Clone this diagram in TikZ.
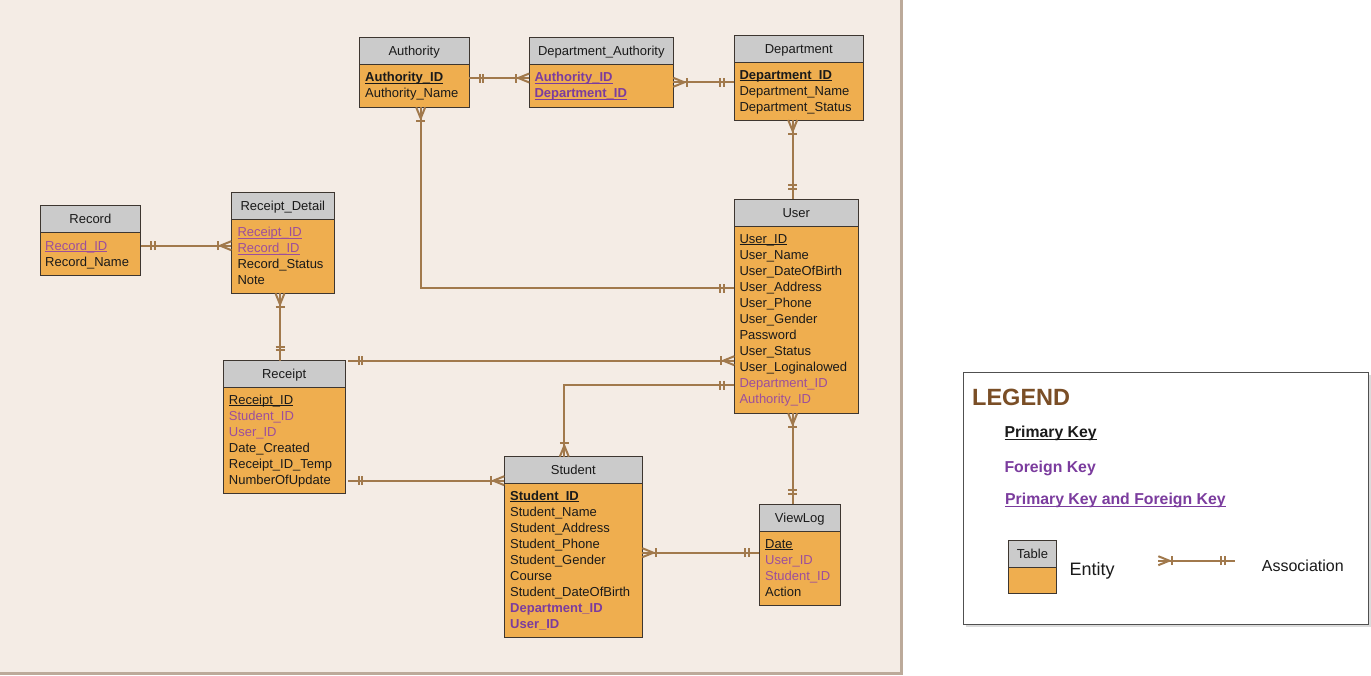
\documentclass[tikz,border=0pt]{standalone}
\usepackage{fontspec}
\setmainfont{Liberation Sans}
\usetikzlibrary{fit,decorations.markings}
\definecolor{panel}{HTML}{F4ECE5}
\definecolor{paneledge}{HTML}{BCAA9A}
\definecolor{hdrgray}{HTML}{CBCBCB}
\definecolor{bodyor}{HTML}{EFAE4F}
\definecolor{tblline}{HTML}{3D3630}
\definecolor{conncol}{RGB}{161,121,76}
\definecolor{fkp}{HTML}{9C4E9C}
\definecolor{fkv}{HTML}{7B3C9E}
\definecolor{legbrown}{HTML}{7A4E26}
\definecolor{txt}{HTML}{1A1A1A}
\definecolor{legline}{HTML}{505050}

\newlength\ulw
\newcommand{\ulx}[1]{\settowidth{\ulw}{#1}\rlap{\rule[-2pt]{\ulw}{1pt}}#1}
\newcommand{\pk}[1]{\ulx{#1}}
\newcommand{\pkb}[1]{\textbf{\ulx{#1}}}
\newcommand{\fk}[1]{\textcolor{fkp}{#1}}
\newcommand{\fkb}[1]{\textcolor{fkv}{\textbf{#1}}}
\newcommand{\pfk}[1]{\textcolor{fkp}{\ulx{#1}}}
\newcommand{\pfkb}[1]{\textcolor{fkv}{\textbf{\ulx{#1}}}}

\tikzset{
  tblbody/.style={inner sep=0pt, outer sep=0pt, fill=bodyor, draw=tblline, line width=1pt},
  tblhdr/.style={inner sep=0pt, outer sep=0pt, fill=hdrgray, draw=tblline, line width=1pt},
  hdrtxt/.style={anchor=base, inner sep=0pt, font=\fontsize{13}{15}\selectfont, text=txt},
  fld/.style={anchor=base west, inner sep=0pt, font=\fontsize{13}{15}\selectfont, text=txt},
  conn/.style={draw=conncol, line width=2.2pt},
  mk/.style={draw=conncol, line width=2pt},
  onestart/.style={postaction={decorate,decoration={markings,
      mark=at position 10.5pt with {\draw[mk] (0,-4.5pt)--(0,4.5pt);},
      mark=at position 14pt with {\draw[mk] (0,-4.5pt)--(0,4.5pt);}}}},
  oneend/.style={postaction={decorate,decoration={markings,
      mark=at position -14pt with {\draw[mk] (0,-4.5pt)--(0,4.5pt);},
      mark=at position -10.5pt with {\draw[mk] (0,-4.5pt)--(0,4.5pt);}}}},
  manystart/.style={postaction={decorate,decoration={markings,
      mark=at position 11pt with {\draw[mk] (-11pt,4.5pt)--(0,0)--(-11pt,-4.5pt);},
      mark=at position 13.5pt with {\draw[mk] (0,-4.5pt)--(0,4.5pt);}}}},
  manyend/.style={postaction={decorate,decoration={markings,
      mark=at position -13.5pt with {\draw[mk] (0,-4.5pt)--(0,4.5pt);},
      mark=at position -11pt with {\draw[mk] (11pt,4.5pt)--(0,0)--(11pt,-4.5pt);}}}},
}

\newcommand{\enttable}[7]{%
  \node[tblbody, fit={(#2,#3) (#4,#6)}] (#1) {};
  \node[tblhdr, fit={(#2,#3) (#4,#5)}] (#1-h) {};
  \node[hdrtxt] (#1-t) at ([yshift=-4.6pt]#1-h.center) {#7};
}
\newcommand{\entrows}[4]{%
  \foreach \rr [count=\ii] in {#4} {%
    \node[fld] (#1-r\ii) at (#2, {#3+16*(\ii-1)}) {\rr};
  }%
}

\begin{document}
\begin{tikzpicture}[x=1pt, y=-1pt]
\useasboundingbox (0,0) rectangle (1371,675);
% panel
\fill[panel] (0,0) rectangle (900,672);
\fill[paneledge] (900,0) rectangle (903,674.5);
\fill[paneledge] (0,672) rectangle (903,674.5);

% tables
\enttable{authority}{359}{37.3}{469.3}{64.5}{107.3}{Authority}
\entrows{authority}{365}{81.7}{\pkb{Authority\_ID}, Authority\_Name}

\enttable{da}{529.3}{37.3}{673.3}{64.5}{107.3}{Department\_Authority}
\entrows{da}{534.3}{81.7}{\pfkb{Authority\_ID}, \pfkb{Department\_ID}}

\enttable{department}{734.3}{35}{863.3}{62}{120}{Department}
\entrows{department}{739.3}{79}{\pkb{Department\_ID}, Department\_Name, Department\_Status}

\enttable{record}{40}{205.7}{140.7}{232.3}{275}{Record}
\entrows{record}{45}{250}{\pfk{Record\_ID}, Record\_Name}

\enttable{rdetail}{231.3}{192.3}{334.3}{219.3}{293.3}{Receipt\_Detail}
\entrows{rdetail}{237.3}{236.7}{\pfk{Receipt\_ID}, \pfk{Record\_ID}, Record\_Status, Note}

\enttable{receipt}{223.3}{360.7}{345}{387.3}{493.3}{Receipt}
\entrows{receipt}{228.7}{404}{\pk{Receipt\_ID}, \fk{Student\_ID}, \fk{User\_ID}, Date\_Created, Receipt\_ID\_Temp, NumberOfUpdate}

\enttable{user}{734.3}{199.3}{858.3}{226}{413.3}{User}
\entrows{user}{739.3}{243.3}{\pk{User\_ID}, User\_Name, User\_DateOfBirth, User\_Address, User\_Phone, User\_Gender, Password, User\_Status, User\_Loginalowed, \fk{Department\_ID}, \fk{Authority\_ID}}

\enttable{student}{504.3}{456.7}{642.3}{483.3}{637.3}{Student}
\entrows{student}{510}{500}{\pkb{Student\_ID}, Student\_Name, Student\_Address, Student\_Phone, Student\_Gender, Course, Student\_DateOfBirth, \fkb{Department\_ID}, \fkb{User\_ID}}

\enttable{viewlog}{759.3}{504.3}{840.3}{531.3}{605}{ViewLog}
\entrows{viewlog}{765}{548.3}{\pk{Date}, \fk{User\_ID}, \fk{Student\_ID}, Action}

% connectors
\draw[conn, onestart, manyend] (authority.east |- 0,78) -- (da.west |- 0,78);
\draw[conn, manystart, oneend] (da.east |- 0,82.3) -- (department.west |- 0,82.3);
\draw[conn, manystart, oneend] (department.south -| 792.7,0) -- (user.north -| 792.7,0);
\draw[conn, manystart, oneend] (authority.south -| 420.7,0) |- (user.west |- 0,288.3);
\draw[conn, onestart, manyend] (record.east |- 0,245.7) -- (rdetail.west |- 0,245.7);
\draw[conn, manystart, oneend] (rdetail.south -| 280,0) -- (receipt.north -| 280,0);
\draw[conn, onestart, manyend] ([xshift=3pt]receipt.north east) -- (user.west |- 0,360.7);
\draw[conn, onestart, manyend] (user.west |- 0,385) -| (student.north -| 564.3,0);
\draw[conn, onestart, manyend] ([xshift=3pt]receipt.east |- 0,480.7) -- (student.west |- 0,480.7);
\draw[conn, manystart, oneend] (user.south -| 792.7,0) -- (viewlog.north -| 792.7,0);
\draw[conn, manystart, oneend] (student.east |- 0,552.7) -- (viewlog.west |- 0,552.7);

% legend
\fill[black!14] (966,375) rectangle (1370.5,627);
\node[inner sep=0pt, outer sep=0pt, fill=white, draw=legline, line width=1pt, fit={(963.5,372.5) (1368,624.5)}] (legend) {};
\node[anchor=base west, inner sep=0pt, font=\bfseries\fontsize{23.5}{26}\selectfont, text=legbrown] (legtitle) at (972,405) {LEGEND};
\node[anchor=base west, inner sep=0pt, font=\fontsize{15.8}{18}\selectfont, text=txt] (legpk) at (1004.3,437.7) {\pkb{Primary Key}};
\node[anchor=base west, inner sep=0pt, font=\fontsize{15.8}{18}\selectfont] (legfk) at (1004.3,472.3) {\fkb{Foreign Key}};
\node[anchor=base west, inner sep=0pt, font=\fontsize{15.8}{18}\selectfont] (legpfk) at (1005,504.7) {\pfkb{Primary Key and Foreign Key}};
\enttable{legtbl}{1008.3}{540.7}{1056.7}{567.3}{593.7}{Table}
\node[anchor=base west, inner sep=0pt, font=\fontsize{18}{20}\selectfont, text=txt] (legent) at (1069.3,575) {Entity};
\coordinate (assocA) at (1158.3,560.7);
\coordinate (assocB) at (1235,560.7);
\draw[conn, manystart, oneend] (assocA) -- (assocB);
\node[anchor=base west, inner sep=0pt, font=\fontsize{16}{18}\selectfont, text=txt] (legassoc) at (1261.7,571) {Association};
\end{tikzpicture}
\end{document}
